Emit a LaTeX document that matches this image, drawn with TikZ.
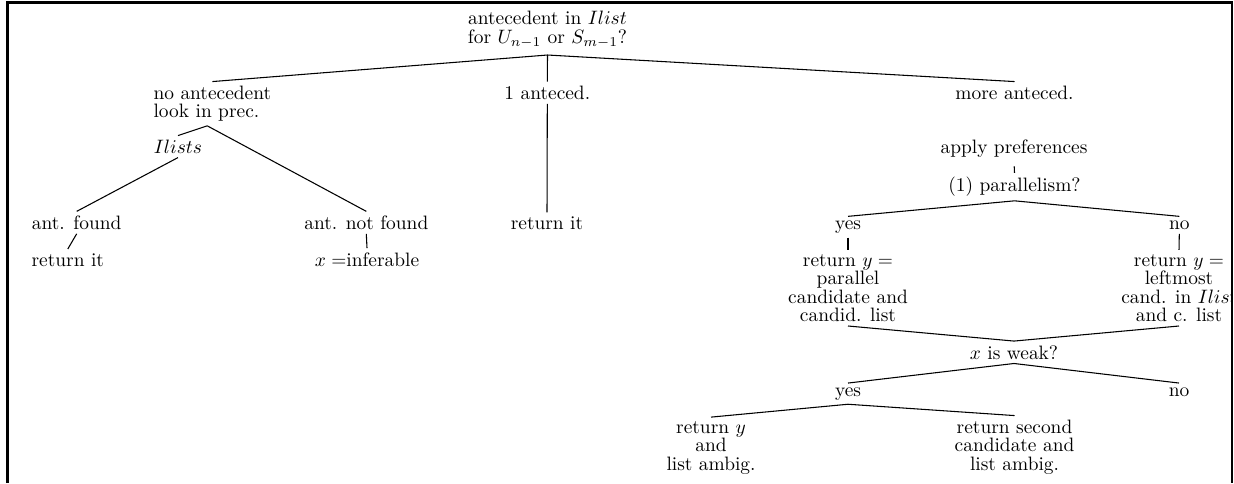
\documentclass[tikz,border=0pt]{standalone}
\newcommand\mlc[1]{\vtop{\baselineskip=9.54pt\lineskiplimit=-20pt\lineskip=0pt\halign{\hfil##\hfil\cr#1\crcr}}}
\newcommand\mll[1]{\vtop{\baselineskip=9.54pt\lineskiplimit=-20pt\lineskip=0pt\halign{##\hfil\cr#1\crcr}}}
\newcommand\mlroot[1]{\vtop{\baselineskip=9.95pt\lineskiplimit=-20pt\lineskip=0pt\halign{\hfil##\hfil\cr#1\crcr}}}
\tikzset{
  lbl/.style={inner sep=2pt, anchor=base, font=\fontsize{10}{9.54}\selectfont},
  edge/.style={line width=0.55pt},
  frameline/.style={line width=1.4pt},
}
\begin{document}
\begin{tikzpicture}[x=0.5155pt,y=-0.5155pt]
\useasboundingbox (0,0) rectangle (1234,483);
\begin{scope}
\clip (0,0) rectangle (1231.5,483);
% nodes
\node[lbl] (root) at (547.5,24) {\mlroot{antecedent in $Ilist$\cr for $U_{n-1}$ or $S_{m-1}$?}};
\node[lbl] (noant) at (212.3,99.3) {\mll{no antecedent\cr look in prec.}};
\node[lbl] (one) at (547.3,99.3) {1 anteced.};
\node[lbl] (more) at (1014.5,99.3) {more anteced.};
\node[lbl] (ilists) at (178,153.3) {$Ilists$};
\node[lbl] (antf) at (76.7,229.3) {ant. found};
\node[lbl] (retit1) at (67.8,266) {return it};
\node[lbl] (antnf) at (366.3,229.3) {ant. not found};
\node[lbl] (inf) at (367,266) {$x=$inferable};
\node[lbl] (retit2) at (547,229.3) {return it};
\node[lbl] (apply) at (1014,153.3) {apply preferences};
\node[lbl] (par) at (1014.5,191.7) {(1) parallelism?};
\node[lbl] (yes1) at (848,229.3) {yes};
\node[lbl] (no1) at (1179.3,229.3) {no};
\node[lbl] (ry1) at (848,266) {\mlc{return $y=$\cr parallel\cr candidate and\cr candid. list}};
\node[lbl] (ry2) at (1179,266) {\mlc{return $y=$\cr leftmost\cr cand. in $Ilist$\cr and c. list}};
\node[lbl] (weak) at (1014,359) {$x$ is weak?};
\node[lbl] (yes2) at (848,396) {yes};
\node[lbl] (no2) at (1179,396) {no};
\node[lbl] (ret3) at (711,433.3) {\mlc{return $y$\cr and\cr list ambig.}};
\node[lbl] (ret4) at (1014.5,433.3) {\mlc{return second\cr candidate and\cr list ambig.}};
% connectors
\draw[edge] (noant.north) -- ([yshift=-1.5pt]root.south) -- (more.north);
\draw[edge] ([yshift=-1.5pt]root.south) -- (one.north);
\draw[edge] (ilists.north) -- ([xshift=-2.6pt]noant.south) -- (antnf.north);
\draw[edge] (ilists.south) -- (antf.north);
\draw[edge] (antf.south) -- (retit1.north);
\draw[edge] (antnf.south) -- (inf.north);
\draw[edge] (one.south) -- (retit2.north);
\draw[edge, shorten <=2.5pt] (apply.south) -- (par.north);
\draw[edge] (yes1.north) -- (par.south) -- (no1.north);
\draw[edge] (yes1.south) -- (ry1.north);
\draw[edge] (no1.south) -- (ry2.north);
\draw[edge] (ry1.south) -- (weak.north) -- (ry2.south);
\draw[edge] (yes2.north) -- (weak.south) -- (no2.north);
\draw[edge] (ret3.north) -- (yes2.south) -- (ret4.north);
\end{scope}
% frame
\draw[frameline] (7.3,483) -- (7.3,2.7) -- (1233.3,2.7);
\draw[line width=1.03pt] (1232.3,2.7) -- (1232.3,483);
\end{tikzpicture}
\end{document}
